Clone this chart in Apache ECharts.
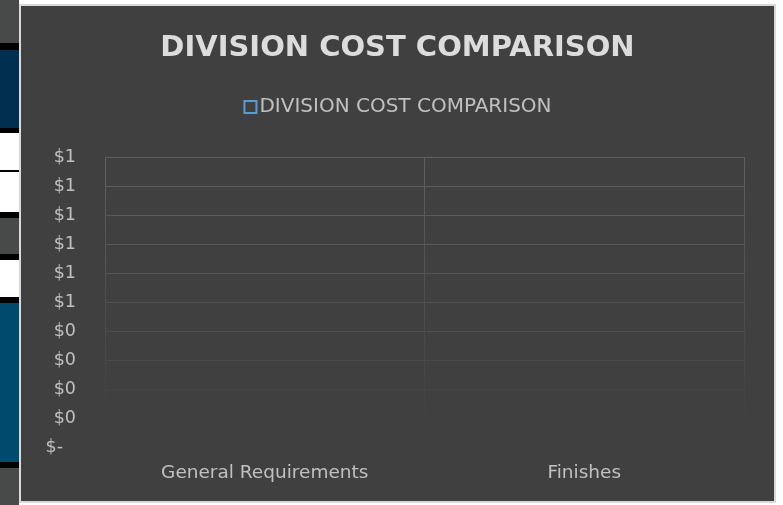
<!DOCTYPE html>
<html>
<head>
<meta charset="utf-8">
<script src="https://cdn.jsdelivr.net/npm/echarts@6/dist/echarts.min.js"></script>
<style>
  html, body { margin: 0; padding: 0; background: #ffffff; width: 783px; height: 505px; overflow: hidden; }
  .cell { position: absolute; left: 0; width: 19px; }
  #chart { position: absolute; left: 19px; top: 4px; width: 753px; height: 495px; border: 2px solid #d9d9d9; background: #404040; }
</style>
</head>
<body>
<!-- spreadsheet cells peeking out left of the chart -->
<div class="cell" style="top:0;height:43px;background:#474a48"></div>
<div class="cell" style="top:43px;height:7px;background:#000"></div>
<div class="cell" style="top:50px;height:78px;background:#002f4f"></div>
<div class="cell" style="top:128px;height:5px;background:#000"></div>
<div class="cell" style="top:170px;height:2px;background:#000"></div>
<div class="cell" style="top:212px;height:6px;background:#000"></div>
<div class="cell" style="top:218px;height:36px;background:#474a48"></div>
<div class="cell" style="top:254px;height:6px;background:#000"></div>
<div class="cell" style="top:297px;height:6px;background:#000"></div>
<div class="cell" style="top:303px;height:159px;background:#004a6e"></div>
<div class="cell" style="top:462px;height:6px;background:#000"></div>
<div class="cell" style="top:468px;height:37px;background:#474a48"></div>

<div id="chart"></div>
<script>
  const title = "DIVISION COST COMPARISON";
  const seriesName = "DIVISION COST COMPARISON";
  const categories = ["General Requirements", "Finishes"];
  const costs = [0, 0];
  const yMin = 0, yMax = 1, yStep = 0.1;
  // grid line shades from the bottom (value 0) up to the top (value 1)
  const gridShades = ['#404040', '#424242', '#464646', '#4b4b4b', '#4f4f4f', '#525252',
                      '#555555', '#585858', '#5a5a5a', '#5c5c5c', '#606060'];

  const font = "DejaVu Sans";
  const chart = echarts.init(document.getElementById('chart'));

  chart.setOption({
    backgroundColor: '#404040',
    animation: false,
    title: {
      text: title,
      left: 'center',
      top: 23,
      textStyle: { color: '#dcdcdc', fontFamily: font, fontWeight: 'bold', fontSize: 29 }
    },
    legend: {
      data: [seriesName],
      top: 86,
      left: 'center',
      icon: 'rect',
      itemWidth: 12,
      itemHeight: 12,
      itemGap: 4,
      itemStyle: { color: 'rgba(0,0,0,0)', borderColor: '#5b9bd5', borderWidth: 2 },
      textStyle: { color: '#c0c0c0', fontFamily: font, fontSize: 20, padding: [0, 0, 0, -2] }
    },
    grid: { left: 84, right: 30, top: 151, bottom: 54 },
    xAxis: {
      type: 'category',
      data: categories,
      axisLine: { show: false },
      axisTick: { show: false },
      axisLabel: { color: '#c0c0c0', fontFamily: font, fontSize: 18.5, margin: 17 },
      splitLine: {
        show: true,
        interval: 0,
        lineStyle: {
          width: 1,
          color: {
            type: 'linear', x: 0, y: 151, x2: 0, y2: 441, global: true,
            colorStops: [{ offset: 0, color: '#606060' }, { offset: 0.85, color: '#424242' }, { offset: 1, color: '#404040' }]
          }
        }
      }
    },
    yAxis: {
      type: 'value',
      min: yMin,
      max: yMax,
      interval: yStep,
      axisLine: { show: false },
      axisTick: { show: false },
      axisLabel: {
        color: '#c0c0c0',
        fontFamily: font,
        fontSize: 17.5,
        margin: 29,
        formatter: function (v) {
          return v === 0 ? '{dash|$-}' : '$' + Math.round(v);
        },
        rich: { dash: { color: '#c0c0c0', fontFamily: font, fontSize: 17.5, padding: [0, 13, 0, 0] } }
      },
      splitLine: { lineStyle: { color: gridShades, width: 1 } }
    },
    series: [{
      name: seriesName,
      type: 'bar',
      data: costs,
      itemStyle: { color: '#5b9bd5' }
    }]
  });
</script>
</body>
</html>
